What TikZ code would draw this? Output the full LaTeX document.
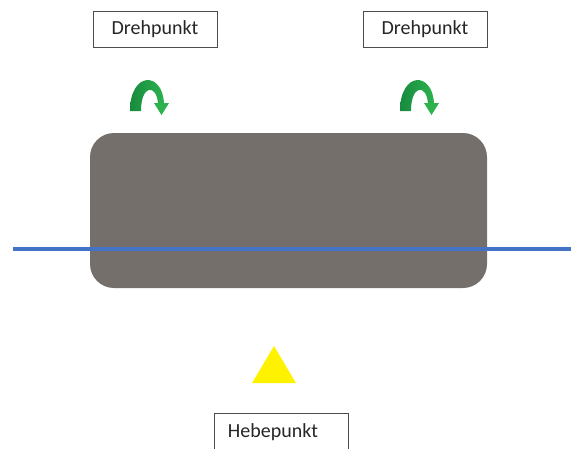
\documentclass[tikz,border=0pt]{standalone}
\usepackage{fontspec}
\setmainfont{Carlito}
\begin{document}
\begin{tikzpicture}[x=1pt,y=-1pt,
  label box/.style={draw=black!70, line width=0.8pt, fill=white, minimum height=36pt,
    inner xsep=6pt, font=\fontsize{20}{22}\selectfont, text=black!85},
  turn arrow/.style={left color=arrowdark, right color=arrowlight}]
\definecolor{bodygray}{HTML}{756F6C}
\definecolor{axisblue}{HTML}{4472C4}
\definecolor{arrowdark}{HTML}{178A3E}
\definecolor{arrowlight}{HTML}{2DB24E}
\useasboundingbox (0,0) rectangle (571,448);

% body
\fill[bodygray, rounded corners=24pt] (90,133) rectangle (487,288);
% axis line
\draw[axisblue, line width=4.5pt] (13,249) -- (571,249);

% pivot labels
\node[label box, minimum width=124pt] (dl) at (155,29) {Drehpunkt};
\node[label box, minimum width=124pt] (dr) at (425,29) {Drehpunkt};

% rotation arrows: tapered arch with a downward head
\foreach \dx in {0,270}{
  \begin{scope}[xshift=\dx]
    \shade[turn arrow] (130,111) .. controls (130,71) and (163,71) .. (164,104)
      -- (158,104) .. controls (157,84) and (141,84) .. (141,111) -- cycle;
    \fill[arrowlight] (154,103) -- (169,103) -- (161.5,115) -- cycle;
  \end{scope}
}

% lifting point
\fill[yellow] (252,383) -- (296,383) -- (274,346) -- cycle;
\node[label box, minimum width=134pt, anchor=north, minimum height=44pt] (hb) at (281,413) {};
\node[font=\fontsize{20}{22}\selectfont, text=black!85] (ht) at (273,432) {Hebepunkt};
\end{tikzpicture}
\end{document}
